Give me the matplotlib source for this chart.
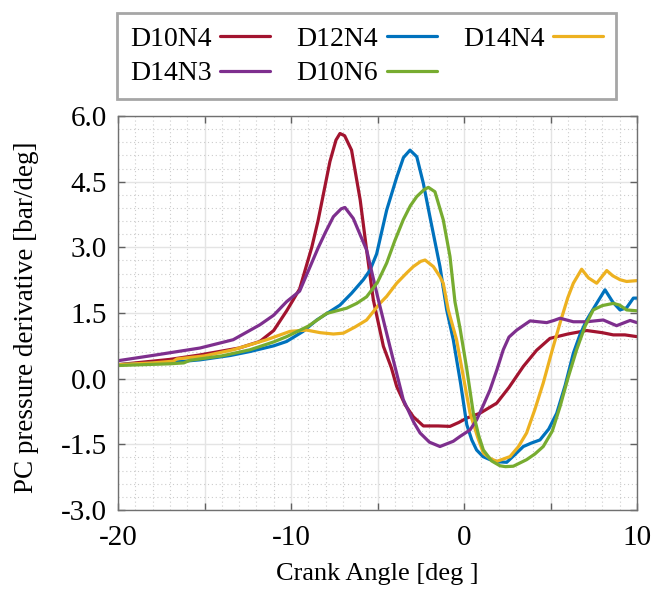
import matplotlib
matplotlib.use("Agg")
import matplotlib.pyplot as plt
from matplotlib.ticker import MultipleLocator, FuncFormatter

plt.rcParams['font.family'] = ['Liberation Serif', 'DejaVu Serif']
plt.rcParams['font.size'] = 20

# ---- data ----
x_d10n4 = [-20, -19, -17, -15.3, -13, -11.8, -11, -10.25, -9.5, -8.8, -8.44, -7.75, -7.4, -7.17, -6.9,
           -6.5, -6.0, -5.63, -5.24, -4.66, -4.2, -3.89, -3.4, -2.93, -2.35, -1.5, -0.81, -0.3, 0.16, 0.92,
           1.89, 2.6, 3.43, 4.2, 4.97, 6.0, 7.09, 8.0, 8.63, 9.3, 10]
y_d10n4 = [0.32, 0.36, 0.44, 0.54, 0.70, 0.85, 1.1, 1.55, 2.05, 3.0, 3.6, 4.96, 5.45, 5.6, 5.55,
           5.22, 4.08, 2.94, 1.8, 0.74, 0.25, -0.18, -0.6, -0.87, -1.08, -1.08, -1.09, -1.0, -0.9, -0.79,
           -0.56, -0.2, 0.28, 0.65, 0.92, 1.02, 1.10, 1.05, 1.0, 1.0, 0.96]

x_d12n4 = [-20, -17, -15.26, -13.5, -12.37, -11, -10.25, -9.3, -8.51, -7.17, -6.5, -5.82, -5.43, -5.05,
           -4.47, -3.89, -3.5, -3.12, -2.73, -2.35, -1.97, -1.39, -1.0, -0.62, -0.2, 0.16, 0.45, 0.73, 1.1,
           1.5, 2.0, 2.47, 2.9, 3.43, 3.9, 4.39, 4.9, 5.36, 5.85, 6.32, 6.7, 7.09, 7.67, 8.15, 8.6, 9.02,
           9.4, 9.79, 10]
y_d12n4 = [0.32, 0.37, 0.43, 0.53, 0.62, 0.75, 0.85, 1.08, 1.34, 1.68, 1.95, 2.26, 2.48, 2.85,
           3.85, 4.6, 5.05, 5.22, 5.07, 4.46, 3.70, 2.56, 1.57, 0.89, -0.1, -1.05, -1.4, -1.63, -1.78,
           -1.85, -1.9, -1.91, -1.75, -1.55, -1.47, -1.40, -1.15, -0.79, -0.15, 0.58, 1.0, 1.34, 1.72, 2.03,
           1.75, 1.57, 1.62, 1.84, 1.84]

x_d14n4 = [-20, -18, -16.8, -16.6, -15, -13.34, -11.4, -10.06, -9.1, -8.3, -7.55, -6.97, -6.3, -5.63,
           -4.86, -4.47, -3.89, -3.3, -2.93, -2.5, -2.25, -1.77, -1.39, -1.2, -0.91, -0.43, 0.35, 0.8, 1.12,
           1.5, 1.89, 2.66, 3.15, 3.62, 4.1, 4.58, 5.1, 5.55, 6.0, 6.32, 6.8, 7.2, 7.67, 8.25, 8.6, 9.02,
           9.40, 10]
y_d14n4 = [0.32, 0.36, 0.40, 0.45, 0.52, 0.66, 0.89, 1.08, 1.11, 1.05, 1.02, 1.04, 1.18, 1.34,
           1.72, 1.88, 2.18, 2.42, 2.56, 2.68, 2.71, 2.56, 2.33, 2.18, 1.57, 0.89, -0.79, -1.35, -1.70,
           -1.82, -1.89, -1.78, -1.55, -1.24, -0.7, -0.10, 0.65, 1.27, 1.85, 2.18, 2.50, 2.3, 2.18, 2.47,
           2.35, 2.26, 2.22, 2.24]

x_d14n3 = [-20, -18, -15.26, -13.34, -11.8, -11, -10.25, -9.5, -8.44, -8.0, -7.55, -7.1, -6.88, -6.4,
           -5.63, -4.95, -4.28, -3.51, -2.9, -2.54, -2.0, -1.39, -0.62, -0.23, 0.35, 0.73, 1.1, 1.5, 1.9,
           2.27, 2.6, 3.05, 3.82, 4.3, 4.78, 5.2, 5.55, 6.32, 7.09, 8.05, 8.82, 9.6, 10]
y_d14n3 = [0.41, 0.53, 0.70, 0.89, 1.23, 1.45, 1.76, 2.0, 2.98, 3.35, 3.70, 3.88, 3.91, 3.66,
           2.94, 1.8, 0.73, -0.48, -1.0, -1.24, -1.45, -1.55, -1.43, -1.32, -1.17, -0.94, -0.62, -0.26, 0.2,
           0.66, 0.95, 1.11, 1.32, 1.30, 1.28, 1.33, 1.38, 1.30, 1.30, 1.34, 1.21, 1.33, 1.28]

x_d10n6 = [-20, -17, -16.2, -15.84, -14, -12.37, -11, -10.25, -9, -7.94, -6.78, -6.2, -5.63, -5.0,
           -4.47, -4.0, -3.51, -3.1, -2.73, -2.3, -2.06, -1.68, -1.2, -0.81, -0.52, -0.23, 0.15, 0.54, 0.85,
           1.12, 1.6, 2.08, 2.4, 2.85, 3.62, 4.1, 4.58, 5.1, 5.55, 6.0, 6.51, 7.0, 7.47, 8.0, 8.63, 9.0,
           9.40, 10]
y_d10n6 = [0.30, 0.34, 0.36, 0.42, 0.52, 0.66, 0.84, 0.96, 1.2, 1.49, 1.61, 1.72, 1.87, 2.2,
           2.64, 3.15, 3.63, 3.95, 4.16, 4.32, 4.37, 4.27, 3.63, 2.79, 1.75, 1.15, 0.25, -0.79, -1.3,
           -1.63, -1.88, -1.99, -2.01, -2.0, -1.85, -1.72, -1.55, -1.2, -0.64, 0.0, 0.66, 1.2, 1.57, 1.67,
           1.72, 1.68, 1.57, 1.55]

series_names = ['D10N4', 'D12N4', 'D14N4', 'D14N3', 'D10N6']
series_colors = ['#A2142F', '#0072BD', '#EDB120', '#7E2F8E', '#77AC30']
series_x = [x_d10n4, x_d12n4, x_d14n4, x_d14n3, x_d10n6]
series_y = [y_d10n4, y_d12n4, y_d14n4, y_d14n3, y_d10n6]

x_ticklabels = {-20: '-20', -10: '-10', 0: '0', 10: '10'}

# ---- figure ----
fig = plt.figure(figsize=(6.53, 5.96), dpi=100)
ax = fig.add_axes([118/653, 1 - 510/596, 519/653, 394/596])

handles = {}
for name, col, xs, ys in zip(series_names, series_colors, series_x, series_y):
    ln, = ax.plot(xs, ys, color=col, lw=2.3, solid_joinstyle='round', solid_capstyle='round')
    handles[name] = ln

ax.set_xlim(-20, 10)
ax.set_ylim(-3, 6)

ax.xaxis.set_major_locator(MultipleLocator(5))
ax.xaxis.set_minor_locator(MultipleLocator(1))
ax.yaxis.set_major_locator(MultipleLocator(1.5))
ax.yaxis.set_minor_locator(MultipleLocator(0.3))
ax.xaxis.set_major_formatter(FuncFormatter(lambda v, p: x_ticklabels.get(int(round(v)), '')))
ax.yaxis.set_major_formatter(FuncFormatter(lambda v, p: f'{v:.1f}'))

ax.grid(which='major', color='#e4e4e4', lw=1.0, ls='-')
ax.grid(which='minor', color='#cccccc', lw=0.8, ls=(0, (1, 2.5)))
ax.set_axisbelow(True)

ax.tick_params(which='major', direction='in', length=5, width=1, color='#606060',
               top=True, right=True, labelsize=21, pad=8)
ax.tick_params(axis='x', which='major', pad=11)
ax.tick_params(which='minor', length=0, top=True, right=True)
for s in ax.spines.values():
    s.set_color('#707070')
    s.set_linewidth(1.0)

ax.set_xlabel('Crank Angle [deg ]', fontsize=19)
ax.set_ylabel('PC pressure derivative [bar/deg]', fontsize=19.5)
ax.xaxis.set_label_coords(0.5, -0.135)
ax.yaxis.set_label_coords(-0.152, 0.49)

order = ['D10N4', 'D14N3', 'D12N4', 'D10N6', 'D14N4']
leg = fig.legend([handles[n] for n in order], order, ncol=3, markerfirst=False,
                 loc='upper left', bbox_to_anchor=(117/653, 1 - 13/596, 499/653, 0.0),
                 mode='expand', fontsize=20, frameon=True, fancybox=False,
                 handlelength=1.8, handletextpad=0.3, labelspacing=0.34,
                 borderpad=0.47, borderaxespad=0.0, columnspacing=1.2)
fr = leg.get_frame()
fr.set_edgecolor('#a6a6a6')
fr.set_linewidth(2.0)
fr.set_facecolor('white')
fr.set_alpha(1.0)

fig.savefig('out.png', dpi=100)
